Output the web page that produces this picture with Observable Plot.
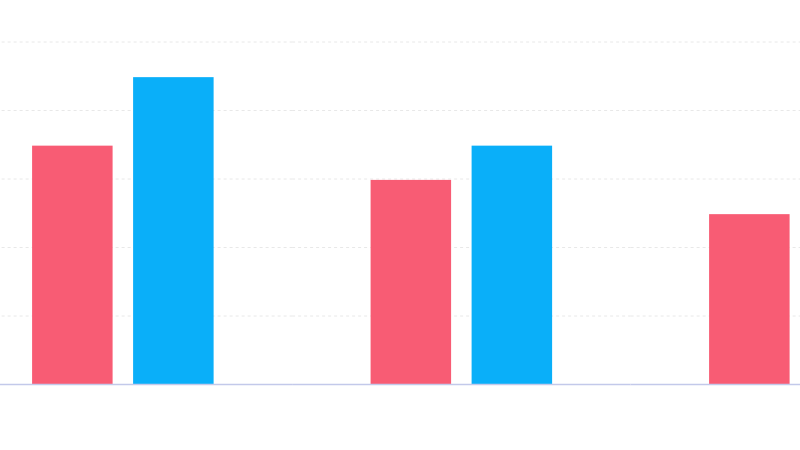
<!DOCTYPE html>
<html>
<head>
<meta charset="utf-8">
<script src="https://cdn.jsdelivr.net/npm/d3@7"></script>
<script src="https://cdn.jsdelivr.net/npm/@observablehq/plot@0.6"></script>
<style>
  html, body { margin: 0; padding: 0; background: #fff; overflow: hidden; }
  #chart svg { overflow: hidden; display: block; }
</style>
</head>
<body>
<div id="chart"></div>
<script>
const groups = ["G1", "G2", "G3"];
const series = ["S1", "S2"];
const s1Values = [3.5, 3, 2.5];
const s2Values = [4.5, 3.5];
const gridTicks = [1, 2, 3, 4, 5];
const colors = ["#f85c74", "#0aaff9"];

const data = [];
s1Values.forEach((v, i) => data.push({group: groups[i], series: "S1", value: v}));
s2Values.forEach((v, i) => data.push({group: groups[i], series: "S2", value: v}));

const chart = Plot.plot({
  width: 800,
  height: 450,
  marginTop: 41.5,
  marginBottom: 66,
  marginLeft: 0,
  marginRight: 0,
  fx: {domain: groups, range: [-46.4, 969.1], padding: 0, round: false, axis: null},
  x: {domain: series, paddingInner: 0.203, paddingOuter: 0.777, round: false, axis: null},
  y: {domain: [0, 5], axis: null},
  color: {domain: series, range: colors},
  marks: [
    Plot.ruleY(gridTicks, {stroke: "#e8e8e8", strokeDasharray: "3,3", strokeWidth: 1}),
    Plot.barY(data, {fx: "group", x: "series", y: "value", fill: "series", insetTop: 1.4}),
    Plot.ruleY([0], {stroke: "#c3c9ea", strokeWidth: 1.5})
  ]
});
document.getElementById("chart").appendChild(chart);
</script>
</body>
</html>
